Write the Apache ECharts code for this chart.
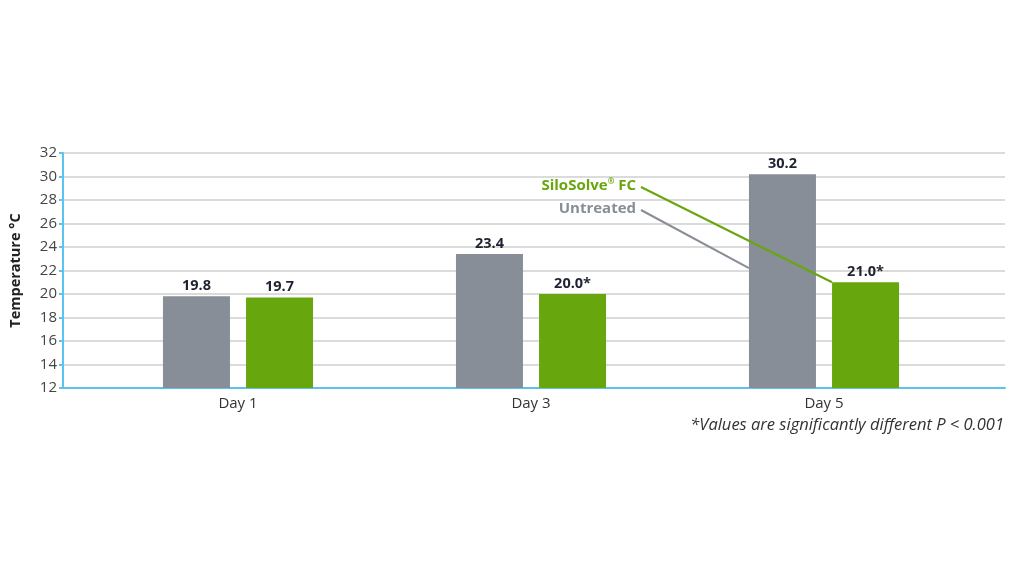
<!DOCTYPE html>
<html>
<head>
<meta charset="utf-8">
<script src="https://cdn.jsdelivr.net/npm/echarts@6/dist/echarts.min.js"></script>
<style>
  html, body { margin: 0; padding: 0; background: #fff; }
  #chart { width: 1024px; height: 576px; }
</style>
</head>
<body>
<div id="chart"></div>
<script>
// Temperature by day - untreated vs SiloSolve FC

const categories = ['Day 1', 'Day 3', 'Day 5'];
const untreated = [19.8, 23.4, 30.2];
const siloSolve = [19.7, 20.0, 21.0];
const siloLabels = ['19.7', '20.0*', '21.0*'];
const yTicks = [12, 14, 16, 18, 20, 22, 24, 26, 28, 30, 32];

const GRAY = '#878e97';
const GREEN = '#68a60d';
const BLUE = '#5cc3ef';
const FONT = '"Open Sans", Lato, sans-serif';

const chart = echarts.init(document.getElementById('chart'));

const yMin = yTicks[0];
const yMax = yTicks[yTicks.length - 1];
const yStep = yTicks[1] - yTicks[0];

const labelStyle = {
    show: true,
    position: 'top',
    distance: 3,
    fontFamily: FONT,
    fontSize: 14.5,
    fontWeight: 'bold',
    color: '#1f2230'
};

const option = {
    animation: false,
    backgroundColor: '#fff',
    grid: [
        // grade completa (linhas e eixos)
        { left: 58, right: 19, top: 153, bottom: 188 },
        // grade das barras
        { left: 91.5, right: 53.5, top: 153, bottom: 188 }
    ],
    xAxis: [
        {
            gridIndex: 0,
            type: 'category',
            data: [''],
            axisLine: { show: true, lineStyle: { color: BLUE, width: 2 } },
            axisTick: { show: false },
            axisLabel: { show: false }
        },
        {
            gridIndex: 1,
            type: 'category',
            data: categories,
            axisLine: { show: false },
            axisTick: { show: false },
            axisLabel: {
                fontFamily: FONT,
                fontSize: 15,
                color: '#333',
                margin: 8
            }
        }
    ],
    yAxis: [
        {
            gridIndex: 0,
            type: 'value',
            min: yMin,
            max: yMax,
            interval: yStep,
            name: 'Temperature °C',
            nameLocation: 'middle',
            nameGap: 40,
            nameTextStyle: {
                fontFamily: FONT,
                fontSize: 14.5,
                fontWeight: 'bold',
                color: '#222'
            },
            axisLine: { show: true, lineStyle: { color: BLUE, width: 2 } },
            axisTick: { show: true, length: 4, lineStyle: { color: BLUE, width: 2 } },
            axisLabel: {
                fontFamily: FONT,
                fontSize: 15,
                color: '#444',
                margin: 6
            },
            splitLine: { show: true, lineStyle: { color: '#cfcfcf', width: 1.5 } }
        },
        {
            gridIndex: 1,
            type: 'value',
            min: yMin,
            max: yMax,
            interval: yStep,
            show: false,
            splitLine: { show: false }
        }
    ],
    series: [
        {
            name: 'Untreated',
            type: 'bar',
            xAxisIndex: 1,
            yAxisIndex: 1,
            data: untreated,
            barWidth: 67,
            barGap: '24%',
            itemStyle: { color: GRAY },
            label: Object.assign({}, labelStyle, {
                formatter: p => p.value.toFixed(1)
            })
        },
        {
            name: 'SiloSolve® FC',
            type: 'bar',
            xAxisIndex: 1,
            yAxisIndex: 1,
            data: siloSolve,
            barWidth: 67,
            barGap: '24%',
            itemStyle: { color: GREEN },
            label: Object.assign({}, labelStyle, {
                formatter: p => siloLabels[p.dataIndex]
            })
        }
    ]
};

chart.setOption(option);

// Chamadas (rótulos com linhas de ligação)
const day5 = categories.length - 1;
const cx = chart.convertToPixel({ xAxisIndex: 1 }, categories[day5]);
const greenTop = chart.convertToPixel({ yAxisIndex: 1 }, siloSolve[day5]);
const grayPoint = chart.convertToPixel({ yAxisIndex: 1 }, 22.2);
const half = 67 * 0.24 / 2;

chart.setOption({
    graphic: [
        {
            type: 'text',
            right: 1024 - 636,
            top: 178,
            style: {
                text: 'SiloSolve{sup|®} FC',
                fontFamily: FONT,
                fontSize: 15,
                fontWeight: 'bold',
                fill: GREEN,
                rich: {
                    sup: {
                        fontFamily: FONT,
                        fontSize: 8,
                        fontWeight: 'bold',
                        fill: GREEN,
                        verticalAlign: 'top',
                        padding: [0, 0, 6, 0]
                    }
                }
            }
        },
        {
            type: 'text',
            right: 1024 - 636,
            top: 201,
            style: {
                text: 'Untreated',
                fontFamily: FONT,
                fontSize: 15,
                fontWeight: 'bold',
                fill: GRAY
            }
        },
        {
            type: 'line',
            shape: { x1: 641, y1: 187, x2: cx + half, y2: greenTop },
            style: { stroke: GREEN, lineWidth: 2 },
            z: 10
        },
        {
            type: 'line',
            shape: { x1: 641, y1: 210, x2: cx - half - 67, y2: grayPoint },
            style: { stroke: GRAY, lineWidth: 2 },
            z: 10
        },
        {
            type: 'text',
            right: 20,
            top: 417,
            style: {
                text: '*Values are significantly different P < 0.001',
                fontFamily: FONT,
                fontSize: 16.5,
                fontStyle: 'italic',
                fill: '#333'
            }
        }
    ]
});

window.addEventListener('resize', function() {
    chart.resize();
});
</script>
</body>
</html>
